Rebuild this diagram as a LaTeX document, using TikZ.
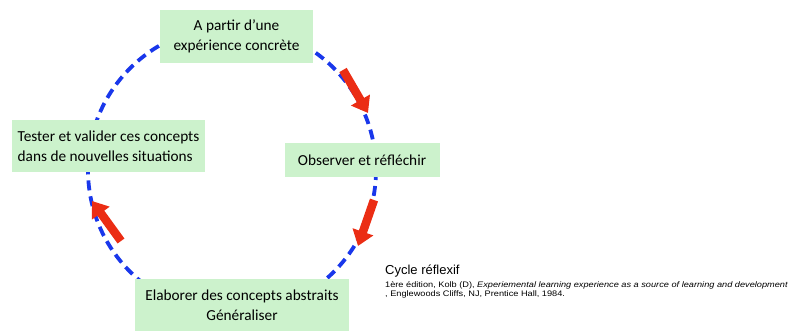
\documentclass[tikz,border=0pt]{standalone}
\usepackage{fontspec}
\setmainfont{Carlito}
\newfontfamily\capfont{Liberation Sans}
\newfontfamily\reffont[FakeStretch=1.15]{Liberation Sans}
\usepackage{xcolor}
\usetikzlibrary{arrows.meta,calc,positioning}

\definecolor{boxgreen}{RGB}{204,242,204}
\definecolor{cycleblue}{RGB}{25,55,235}
\definecolor{arrowred}{RGB}{235,45,20}

\begin{document}
\begin{tikzpicture}[x=1pt,y=-1pt,font=\fontsize{15.3}{20}\selectfont,>=Latex]
    \tikzset{
      stage/.style={fill=boxgreen, inner sep=0pt, text=black},
      cycle/.style={draw=cycleblue, line width=3.8pt, dash pattern=on 10pt off 6pt},
      redarrow/.style={-{Triangle[length=15pt,width=21pt]}, draw=arrowred, line width=8.5pt}
    }
    \useasboundingbox (0,0) rectangle (790,331);
    % cycle
    \draw[cycle] (232,170) circle[radius=144];
    % red arrows on the circle
    \coordinate (a1) at (343,70);  \coordinate (b1) at (368,113);
    \coordinate (a2) at (374,200); \coordinate (b2) at (358,246);
    \coordinate (a3) at (121,241); \coordinate (b3) at (92,201);
    \draw[redarrow] (a1) -- (b1);
    \draw[redarrow] (a2) -- (b2);
    \draw[redarrow] (a3) -- (b3);
    % stages
    \node[stage, minimum width=153pt, minimum height=53pt, align=center] (exp) at (236.5,36.5)
      {A partir d'une\\expérience concrète};
    \node[stage, minimum width=155pt, minimum height=34pt] (obs) at (362,160)
      {Observer et réfléchir};
    \node[stage, minimum width=214pt, minimum height=52pt, align=center] (abs) at (242,305)
      {Elaborer des concepts abstraits\\Généraliser};
    \node[stage, minimum width=193pt, minimum height=52pt, align=left] (test) at (108.5,146)
      {Tester et valider ces concepts\\dans de nouvelles situations};
    % reference
    \node[anchor=base west, inner sep=0pt, font=\capfont\fontsize{13}{14}\selectfont] (title) at (385,275)
      {Cycle réflexif};
    \node[anchor=north west, inner sep=0pt, align=left, font=\reffont\fontsize{8}{9}\selectfont] (ref) at (385,281)
      {1ère édition, Kolb (D), \textit{Experiemental learning experience as a source of learning and development}\\
       , Englewoods Cliffs, NJ, Prentice Hall, 1984.};
\end{tikzpicture}
\end{document}
